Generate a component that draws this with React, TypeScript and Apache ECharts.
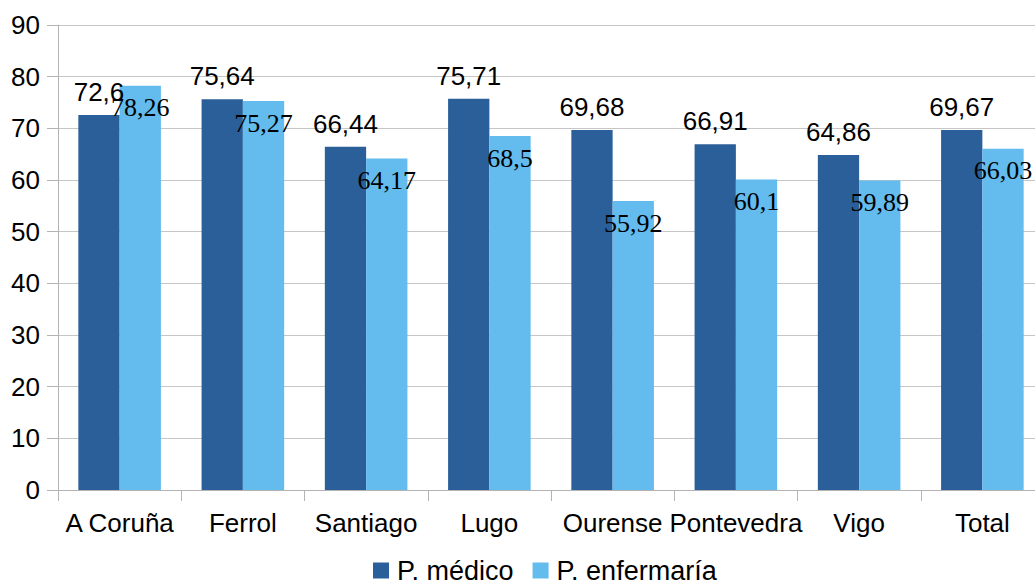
import React, { useEffect, useRef } from "react";
import * as echarts from "echarts";

const categories = ["A Coruña", "Ferrol", "Santiago", "Lugo", "Ourense", "Pontevedra", "Vigo", "Total"];
const medico = [72.6, 75.64, 66.44, 75.71, 69.68, 66.91, 64.86, 69.67];
const enfermaria = [78.26, 75.27, 64.17, 68.5, 55.92, 60.1, 59.89, 66.03];
const seriesNames = ["P. médico", "P. enfermaría"];

const fmt = (p: any) => String(p.value).replace(".", ",");

export default function App() {
  const ref = useRef<HTMLDivElement>(null);
  useEffect(() => {
    document.body.style.margin = "0";
    const chart = echarts.init(ref.current!, null, { renderer: "svg" });
    chart.setOption({
      animation: false,
      backgroundColor: "#ffffff",
      textStyle: { fontFamily: "Liberation Sans" },
      grid: { left: 58, top: 25, right: 0, bottom: 90, containLabel: false },
      legend: {
        data: seriesNames,
        left: 373,
        top: 557,
        padding: 0,
        icon: "rect",
        itemWidth: 16,
        itemHeight: 16,
        itemGap: 19,
        textStyle: { fontSize: 27, color: "#000", fontFamily: "Liberation Sans", padding: [0, 0, 0, 3] },
      },
      xAxis: {
        type: "category",
        data: categories,
        axisLine: { lineStyle: { color: "#b3b3b3", width: 1 } },
        axisTick: { show: true, length: 11, lineStyle: { color: "#b3b3b3" } },
        axisLabel: { fontSize: 26, color: "#000", margin: 20, interval: 0, fontFamily: "Liberation Sans" },
      },
      yAxis: {
        type: "value",
        min: 0,
        max: 90,
        interval: 10,
        axisLine: { show: true, lineStyle: { color: "#b3b3b3", width: 1 } },
        axisTick: { show: true, length: 11, lineStyle: { color: "#b3b3b3" } },
        axisLabel: { fontSize: 26, color: "#000", margin: 18, fontFamily: "Liberation Sans" },
        splitLine: { lineStyle: { color: "#c6c6c6", width: 1 } },
      },
      series: [
        {
          name: seriesNames[0],
          type: "bar",
          data: medico,
          barGap: "0%",
          barCategoryGap: "33%",
          itemStyle: { color: "#2a5f99" },
          label: {
            show: true,
            position: "top",
            distance: 10,
            formatter: fmt,
            fontSize: 26,
            color: "#000",
            fontFamily: "Liberation Sans",
          },
        },
        {
          name: seriesNames[1],
          type: "bar",
          data: enfermaria,
          barGap: "0%",
          barCategoryGap: "33%",
          itemStyle: { color: "#63bbee" },
          label: {
            show: true,
            position: "insideTop",
            distance: 9,
            formatter: fmt,
            fontSize: 26,
            color: "#000",
            fontFamily: "Liberation Serif",
          },
        },
      ],
    });
    return () => chart.dispose();
  }, []);
  return (
    <div style={{ width: 1035, height: 580, position: "absolute", left: 0, top: 0, overflow: "hidden" }}>
      <div ref={ref} style={{ width: 1044, height: 580 }} />
    </div>
  );
}
